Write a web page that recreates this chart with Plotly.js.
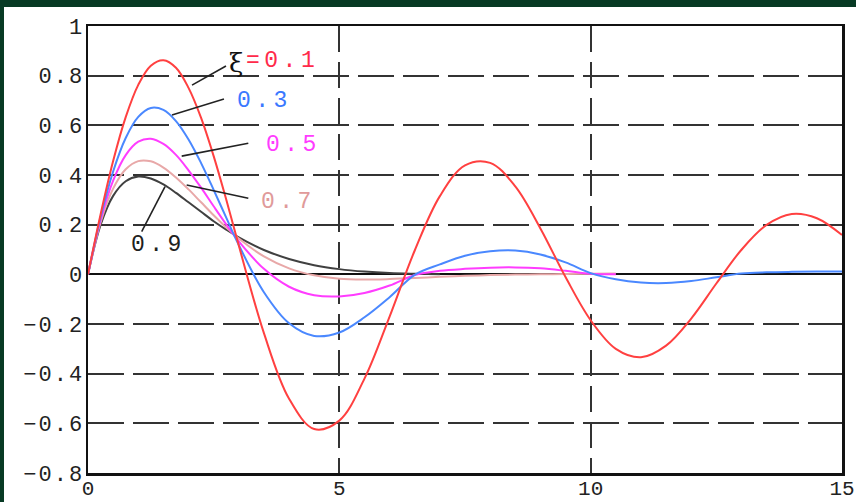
<!DOCTYPE html>
<html>
<head>
<meta charset="utf-8">
<script src="https://cdn.plot.ly/plotly-3.0.1.min.js"></script>
<style>
  html, body { margin:0; padding:0; background:#073a24; width:856px; height:502px; overflow:hidden; }
  #plot { position:absolute; left:4px; top:7px; width:852px; height:495px; background:#fff; }
  .ytick text { letter-spacing: 2px; }
  .annotation-text { letter-spacing: 4.5px; }
</style>
</head>
<body>
<div id="plot"></div>
<script>
// time axis samples
const t = [0,0.25,0.5,0.75,1,1.25,1.5,1.75,2,2.25,2.5,2.75,3,3.5,4,4.5,5,5.5,6,6.5,7,7.5,8,8.5,9,9.5,10,10.5,11,11.5,12,12.5,13,13.5,14,14.5,15];

// series values (damping ratio ξ)
const xi01 = [0,0.241,0.456,0.633,0.763,0.840,0.862,0.832,0.751,0.630,0.476,0.301,0.116,-0.237,-0.501,-0.623,-0.589,-0.420,-0.170,0.096,0.315,0.439,0.449,0.354,0.185,-0.011,-0.185,-0.300,-0.334,-0.287,-0.178,-0.037,0.099,0.199,0.243,0.226,0.158];
const xi03 = [0,0.230,0.414,0.549,0.634,0.670,0.662,0.617,0.543,0.448,0.340,0.228,0.118,-0.072,-0.197,-0.248,-0.234,-0.173,-0.092,-0.002,0.040,0.075,0.093,0.096,0.080,0.048,0.005,-0.020,-0.033,-0.035,-0.027,-0.012,0.003,0.008,0.010,0.011,0.011];
const xi05 = [0,0.219,0.377,0.480,0.534,0.546,0.525,0.481,0.419,0.349,0.274,0.201,0.133,0.022,-0.050,-0.084,-0.089,-0.075,-0.045,-0.003,0.014,0.022,0.027,0.028,0.024,0.014,0.002,0.000];
const xi07 = [0,0.209,0.345,0.423,0.456,0.455,0.430,0.390,0.342,0.290,0.238,0.189,0.144,0.072,0.024,-0.004,-0.018,-0.021,-0.019,-0.015,-0.010,-0.006,-0.003,-0.001,0.000,0.001,0.002,0.003];
const xi09 = [0,0.199,0.316,0.375,0.394,0.386,0.362,0.328,0.290,0.252,0.214,0.180,0.149,0.098,0.062,0.037,0.021,0.011,0.005,0.002,0.000];

// tick labels
const xTickVals = [0,5,10,15];
const xTickText = ['0','5','10','15'];
const yTickVals = [-0.8,-0.6,-0.4,-0.2,0,0.2,0.4,0.6,0.8,1];
const yTickText = ['\u22120.8','\u22120.6','\u22120.4','\u22120.2','0','0.2','0.4','0.6','0.8','1'];

// curve labels
const labelText = ['=0.1','0.3','0.5','0.7','0.9'];
const labelX = [3.1,2.924,3.501,3.408,0.822];
const labelY = [0.859,0.700,0.520,0.291,0.118];
const labelColor = ['#ff2a4a','#3a78ff','#ff3cff','#e09a9a','#202020'];
// leader lines [x1,y1,x2,y2]
const leaders = [
  [2.745,0.839,2.069,0.762],
  [2.705,0.706,1.671,0.642],
  [3.189,0.528,1.864,0.476],
  [3.189,0.306,1.963,0.360],
  [1.532,0.353,1.068,0.172]
];

const series = [
  {y: xi09, color:'#404040'},
  {y: xi07, color:'#e8a8a8'},
  {y: xi05, color:'#ff3cff'},
  {y: xi03, color:'#4a88ff'},
  {y: xi01, color:'#ff4040'}
];

const data = series.map(s => ({
  x: t.slice(0, s.y.length), y: s.y, type:'scatter', mode:'lines',
  line:{color:s.color, width:2, shape:'spline', smoothing:1}, hoverinfo:'skip'
}));

const annotations = labelText.map((txt,i) => ({
  x: labelX[i], y: labelY[i], xref:'x', yref:'y', xanchor:'left', yanchor:'middle',
  showarrow:false, text: txt,
  font:{family:'Liberation Mono', size:23, color:labelColor[i]}
}));
annotations.push({
  x: 2.76, y: 0.85, xref:'x', yref:'y', xanchor:'left', yanchor:'middle', showarrow:false,
  text:'ξ', font:{family:'DejaVu Serif', size:26, color:'#111'}
});

const shapes = leaders.map(l => ({
  type:'line', xref:'x', yref:'y', x0:l[0], y0:l[1], x1:l[2], y1:l[3],
  line:{color:'#222', width:1.6}
}));

const tickFont = {family:'Liberation Mono', size:22, color:'#222'};

const layout = {
  width:852, height:495,
  margin:{l:84, r:14, t:19, b:29},
  paper_bgcolor:'#ffffff', plot_bgcolor:'#ffffff',
  showlegend:false,
  xaxis:{
    range:[0,15], tickmode:'array', tickvals:xTickVals, ticktext:xTickText,
    showgrid:true, gridcolor:'#333', gridwidth:2, griddash:'26px,10px',
    zeroline:false, showline:true, linecolor:'#111', linewidth:2.5, mirror:true,
    ticks:'', tickfont:{family:'Liberation Mono', size:21, color:'#222'}, ticklabelstandoff:-6, fixedrange:true
  },
  yaxis:{
    range:[-0.8,1], tickmode:'array', tickvals:yTickVals, ticktext:yTickText,
    showgrid:true, gridcolor:'#333', gridwidth:2, griddash:'36px,9px',
    zeroline:true, zerolinecolor:'#111', zerolinewidth:1.8,
    showline:true, linecolor:'#111', linewidth:2.5, mirror:true,
    ticks:'', tickfont:tickFont, ticklabelstandoff:-3, fixedrange:true
  },
  annotations: annotations,
  shapes: shapes
};

Plotly.newPlot('plot', data, layout, {displayModeBar:false, staticPlot:true});
</script>
</body>
</html>
